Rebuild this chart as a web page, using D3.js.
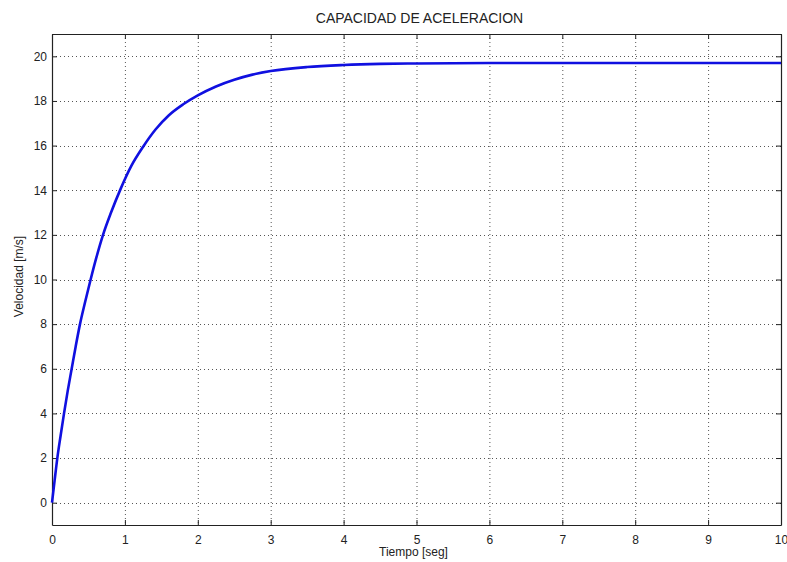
<!DOCTYPE html>
<html><head><meta charset="utf-8">
<script src="https://cdn.jsdelivr.net/npm/d3@7"></script>
<style>
body{margin:0;background:#fff;}
text{font-family:"Liberation Sans",Arial,sans-serif;fill:#222;}
</style></head>
<body><svg id="c" width="787" height="562"></svg>
<script>
const title = "CAPACIDAD DE ACELERACION";
const xLabel = "Tiempo [seg]";
const yLabel = "Velocidad [m/s]";
const xTicks = [0,1,2,3,4,5,6,7,8,9,10];
const yTicks = [0,2,4,6,8,10,12,14,16,18,20];
const tiempo =    [0, 0.036, 0.073, 0.118, 0.165, 0.215, 0.27, 0.325, 0.384, 0.455, 0.53, 0.61, 0.70, 0.81, 0.94, 1.09, 1.25, 1.42, 1.6, 1.8, 2.0, 2.25, 2.5, 2.75, 3.0, 3.5, 4.0, 4.5, 5.0, 6.0, 7.0, 8.0, 9.0, 10.0];
const velocidad = [0, 1.0,   2.0,   3.0,   4.0,   5.0,   6.0,  7.0,   8.0,   9.0,   10.0, 11.0, 12.0, 13.0, 14.05, 15.1, 15.95, 16.72, 17.35, 17.85, 18.25, 18.65, 18.95, 19.18, 19.34, 19.52, 19.61, 19.66, 19.68, 19.70, 19.70, 19.70, 19.70, 19.70];

const svg = d3.select("#c");
const L = 52, R = 781, T = 34, B = 525;
const x = d3.scaleLinear().domain([0,10]).range([L,R]);
const y = d3.scaleLinear().domain([-1,21]).range([B,T]);

// grid
const g = svg.append("g");
g.selectAll(".gx").data(xTicks.slice(1,-1)).enter().append("line")
  .attr("x1",d=>x(d)+0.5).attr("x2",d=>x(d)+0.5).attr("y1",T).attr("y2",B)
  .attr("stroke","#555").attr("stroke-width",1).attr("stroke-dasharray","1,3");
g.selectAll(".gy").data(yTicks).enter().append("line")
  .attr("y1",d=>Math.round(y(d))+0.5).attr("y2",d=>Math.round(y(d))+0.5).attr("x1",L).attr("x2",R)
  .attr("stroke","#555").attr("stroke-width",1).attr("stroke-dasharray","1,3");

// axes with inward ticks
const fmt = d3.format("d");
const xb = svg.append("g").attr("transform",`translate(0,${B})`)
  .call(d3.axisBottom(x).tickValues(xTicks).tickFormat(fmt).tickSizeInner(-5).tickSizeOuter(0).tickPadding(10));
const xt = svg.append("g").attr("transform",`translate(0,${T})`)
  .call(d3.axisTop(x).tickValues(xTicks).tickFormat("").tickSizeInner(-5).tickSizeOuter(0));
const yl = svg.append("g").attr("transform",`translate(${L},0)`)
  .call(d3.axisLeft(y).tickValues(yTicks).tickFormat(fmt).tickSizeInner(-5).tickSizeOuter(0).tickPadding(5));
const yr = svg.append("g").attr("transform",`translate(${R},0)`)
  .call(d3.axisRight(y).tickValues(yTicks).tickFormat("").tickSizeInner(-5).tickSizeOuter(0));
[xb,xt,yl,yr].forEach(a=>{
  a.selectAll("path").attr("stroke","#222").attr("stroke-width",1.2);
  a.selectAll("line").attr("stroke","#222");
  a.selectAll("text").attr("font-size","12px").attr("fill","#222").attr("font-family","Liberation Sans, Arial, sans-serif");
});

// curve
const line = d3.line().x((d,i)=>x(tiempo[i])).y(d=>y(d)).curve(d3.curveMonotoneX);
svg.append("path").datum(velocidad).attr("d",line)
  .attr("fill","none").attr("stroke","#1010e0").attr("stroke-width",2.6);

// labels
svg.append("text").attr("x",(L+R)/2+3).attr("y",23).attr("text-anchor","middle")
  .attr("font-size","14px").text(title);
svg.append("text").attr("x",(L+R)/2-3).attr("y",556).attr("text-anchor","middle")
  .attr("font-size","12px").text(xLabel);
svg.append("text").attr("transform",`translate(23,${(T+B)/2-3}) rotate(-90)`).attr("text-anchor","middle")
  .attr("font-size","12px").text(yLabel);
</script></body></html>
